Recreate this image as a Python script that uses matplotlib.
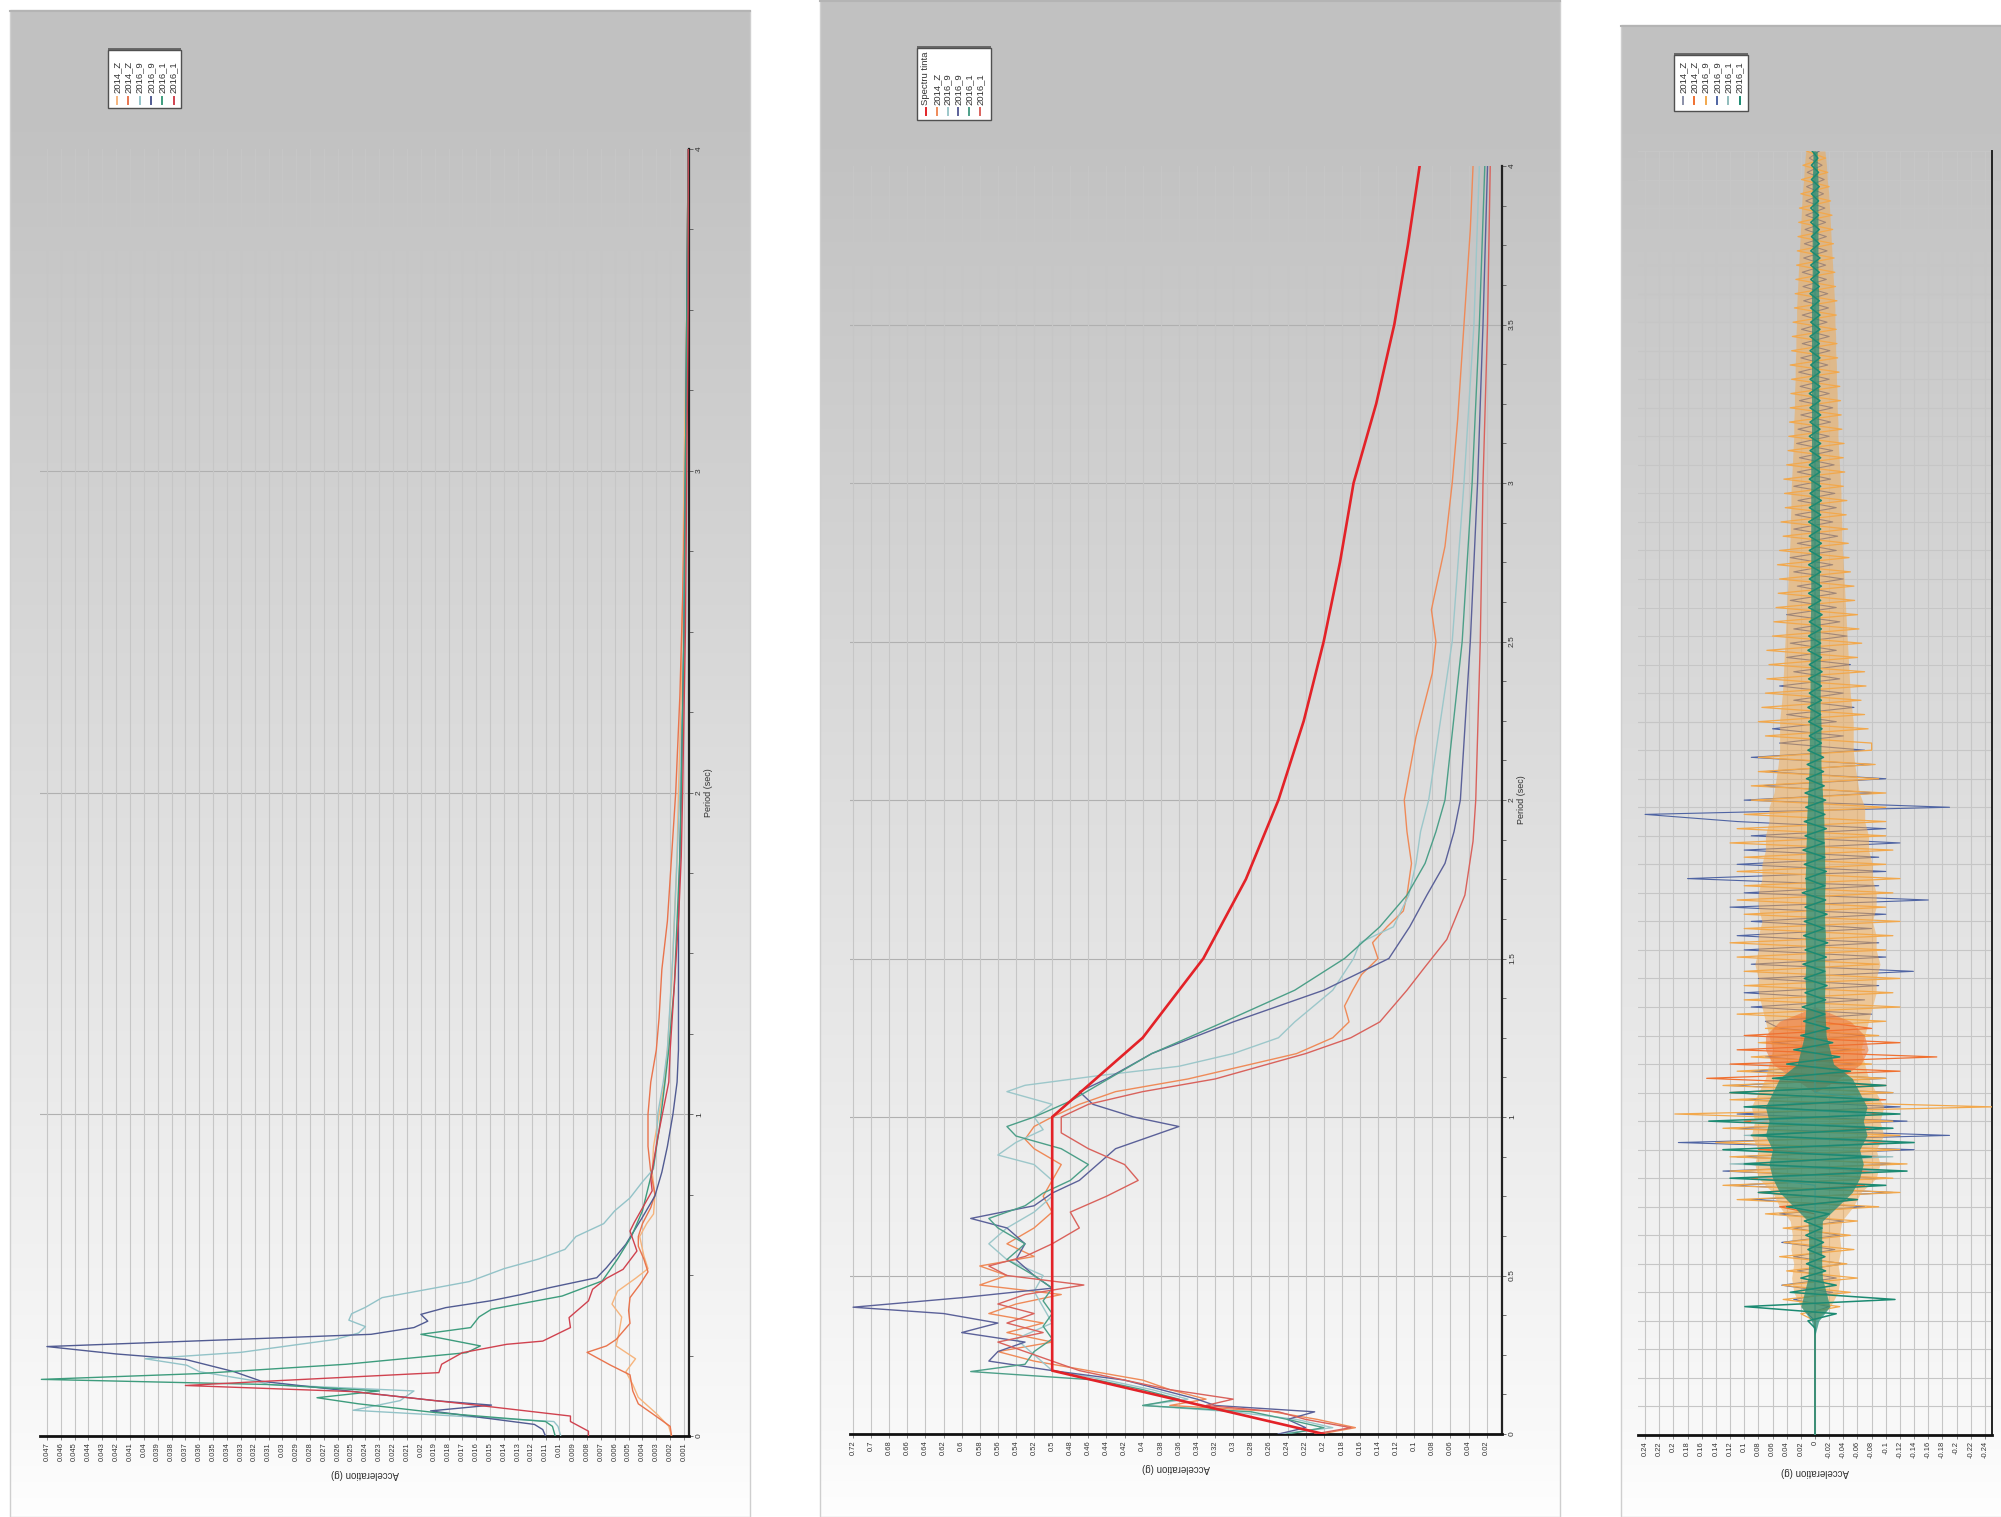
import numpy as np
import matplotlib
matplotlib.use('Agg')
import matplotlib.pyplot as plt
from matplotlib.patches import Rectangle

plt.rcParams['font.family'] = ['Liberation Sans', 'DejaVu Sans']

W, H = 2001, 1517

# ------------------------------------------------------------------ panel 1 data
p1_names = ['2014_Z', '2014_Z', '2016_9', '2016_9', '2016_1', '2016_1']
p1_colors = ['#f6b47c', '#e9744d', '#93c3c8', '#515b92', '#3d9c7d', '#d0424f']

p1_lo_T = [0, 0.03, 0.07, 0.12, 0.16, 0.2, 0.24, 0.28, 0.32, 0.37, 0.41, 0.45, 0.49, 0.52, 0.56, 0.62, 0.66,
           0.69, 0.75, 0.82, 0.9, 1.0, 1.1, 1.2, 1.4, 1.6, 1.8, 2.0, 2.3, 2.6, 3.0, 3.5, 4.0]
p1_lo_A = [0.0019, 0.0021, 0.0030, 0.0043, 0.0047, 0.0052, 0.0045, 0.0059, 0.0057, 0.0055, 0.0062, 0.0058,
           0.0045, 0.0036, 0.0039, 0.0042, 0.0037, 0.0032, 0.0031, 0.0033, 0.0032, 0.0028, 0.0024, 0.0022,
           0.0019, 0.0017, 0.0015, 0.0014, 0.0012, 0.0011, 0.0010, 0.0008, 0.0007]
p1_do_T = [0, 0.03, 0.07, 0.1, 0.14, 0.19, 0.22, 0.26, 0.28, 0.3, 0.35, 0.39, 0.43, 0.47, 0.51, 0.55, 0.59, 0.62,
           0.66, 0.71, 0.75, 0.82, 0.9, 1.0, 1.1, 1.2, 1.3, 1.45, 1.6, 1.8, 2.0, 2.3, 2.6, 3.0, 3.5, 4.0]
p1_do_A = [0.0019, 0.0020, 0.0033, 0.0043, 0.0047, 0.0049, 0.0063, 0.0080, 0.0066, 0.0059, 0.0049, 0.0050,
           0.0049, 0.0042, 0.0036, 0.0039, 0.0043, 0.0043, 0.0040, 0.0034, 0.0031, 0.0034, 0.0036, 0.0036,
           0.0034, 0.0030, 0.0028, 0.0026, 0.0022, 0.0019, 0.0016, 0.0013, 0.0011, 0.0009, 0.0008, 0.0007]
p1_lt_T = [0, 0.03, 0.045, 0.08, 0.11, 0.14, 0.16, 0.17, 0.2, 0.22, 0.24, 0.26, 0.3, 0.32, 0.34, 0.36, 0.38, 0.4,
           0.43, 0.46, 0.48, 0.52, 0.55, 0.58, 0.62, 0.66, 0.7, 0.74, 0.79, 0.83, 0.9, 1.0, 1.1, 1.2, 1.35, 1.5,
           1.7, 2.0, 2.3, 2.6, 3.0, 3.5, 4.0]
p1_lt_A = [0.0099, 0.0101, 0.0104, 0.0249, 0.0215, 0.0205, 0.0310, 0.0318, 0.0360, 0.0369, 0.0399, 0.0330,
           0.0262, 0.0245, 0.0240, 0.0252, 0.0250, 0.0240, 0.0228, 0.0190, 0.0165, 0.0140, 0.0115, 0.0096,
           0.0088, 0.0068, 0.0060, 0.0049, 0.0040, 0.0032, 0.0030, 0.0029, 0.0025, 0.0022, 0.0020, 0.0018,
           0.0016, 0.0013, 0.0011, 0.0010, 0.0009, 0.0008, 0.0007]
p1_ds_T = [0, 0.02, 0.036, 0.078, 0.096, 0.11, 0.17, 0.20, 0.238, 0.255, 0.278, 0.316, 0.337, 0.357, 0.378,
           0.399, 0.42, 0.44, 0.461, 0.492, 0.523, 0.596, 0.68, 0.746, 0.82, 0.9, 1.0, 1.1, 1.2, 1.4, 1.6, 1.8,
           2.0, 2.5, 3.0, 3.5, 4.0]
p1_ds_A = [0.0110, 0.0112, 0.0118, 0.0193, 0.0149, 0.0190, 0.0315, 0.0335, 0.0370, 0.0420, 0.0470, 0.0236,
           0.0205, 0.0195, 0.0200, 0.0182, 0.0150, 0.0127, 0.0107, 0.0073, 0.0066, 0.0052, 0.0040, 0.0031,
           0.0026, 0.0022, 0.0018, 0.0015, 0.0014, 0.0014, 0.0014, 0.0013, 0.0012, 0.0010, 0.0009, 0.0008,
           0.0007]
p1_gr_T = [0, 0.03, 0.045, 0.073, 0.10, 0.119, 0.14, 0.16, 0.176, 0.194, 0.223, 0.259, 0.28, 0.316, 0.337,
           0.37, 0.394, 0.435, 0.482, 0.55, 0.62, 0.7, 0.84, 0.95, 1.09, 1.2, 1.4, 1.6, 1.8, 2.0, 2.5, 3.0, 3.5,
           4.0]
p1_gr_A = [0.0103, 0.0105, 0.0110, 0.0190, 0.0245, 0.0275, 0.0230, 0.0310, 0.0474, 0.0360, 0.0254, 0.0167,
           0.0157, 0.0200, 0.0164, 0.0158, 0.0149, 0.0098, 0.0069, 0.0058, 0.0048, 0.0040, 0.0032, 0.0028,
           0.0024, 0.0021, 0.0017, 0.0015, 0.0013, 0.0012, 0.0010, 0.0009, 0.0008, 0.0007]
p1_rd_T = [0, 0.015, 0.045, 0.062, 0.093, 0.138, 0.157, 0.169, 0.197, 0.223, 0.259, 0.285, 0.295, 0.337, 0.368,
           0.42, 0.456, 0.49, 0.518, 0.575, 0.637, 0.663, 0.762, 0.8, 0.927, 1.1, 1.2, 1.4, 1.6, 1.8, 2.0, 2.5,
           3.0, 3.5, 4.0]
p1_rd_A = [0.0079, 0.0079, 0.0092, 0.0092, 0.0154, 0.0249, 0.0370, 0.0317, 0.0187, 0.0185, 0.0170, 0.0138,
           0.0112, 0.0092, 0.0093, 0.0079, 0.0076, 0.0066, 0.0054, 0.0044, 0.0049, 0.0046, 0.0033, 0.0034,
           0.0029, 0.0021, 0.0020, 0.0017, 0.0014, 0.0012, 0.0011, 0.0009, 0.0008, 0.0007, 0.0007]

p1_accel_ticks = [round(0.001 * k, 3) for k in range(1, 48)]
p1_period_ticks = [0, 1, 2, 3, 4]

# ------------------------------------------------------------------ panel 2 data
p2_names = ['Spectru tinta', '2014_Z', '2016_9', '2016_9', '2016_1', '2016_1']
p2_colors = ['#e32228', '#ef8a58', '#9cc7ca', '#5b6199', '#4c9f88', '#d9625c']

p2_design_T = [0, 0.2, 1.0, 1.25, 1.5, 1.75, 2.0, 2.25, 2.5, 2.75, 3.0, 3.25, 3.5, 3.75, 4.0]
p2_design_A = [0.2, 0.5, 0.5, 0.4, 0.333, 0.286, 0.25, 0.222, 0.2, 0.182, 0.167, 0.142, 0.122, 0.107, 0.094]

p2_or_T = [0, 0.02, 0.046, 0.072, 0.09, 0.11, 0.14, 0.17, 0.2, 0.23, 0.26, 0.29, 0.32, 0.35, 0.38, 0.41, 0.44,
           0.47, 0.5, 0.53, 0.56, 0.6, 0.65, 0.7, 0.75, 0.8, 0.85, 0.9, 0.93, 0.97, 1.0, 1.04, 1.08, 1.12, 1.16,
           1.2, 1.25, 1.3, 1.35, 1.4, 1.45, 1.5, 1.55, 1.6, 1.65, 1.7, 1.8, 1.9, 2.0, 2.2, 2.4, 2.5, 2.6, 2.8,
           3.0, 3.2, 3.5, 3.8, 4.0]
p2_or_A = [0.204, 0.165, 0.207, 0.26, 0.37, 0.33, 0.37, 0.40, 0.46, 0.52, 0.56, 0.50, 0.55, 0.51, 0.57, 0.54,
           0.49, 0.58, 0.55, 0.58, 0.52, 0.55, 0.52, 0.50, 0.51, 0.50, 0.49, 0.52, 0.53, 0.52, 0.50, 0.47, 0.43,
           0.35, 0.29, 0.23, 0.19, 0.172, 0.177, 0.168, 0.158, 0.14, 0.146, 0.13, 0.112, 0.108, 0.103, 0.108,
           0.111, 0.098, 0.08, 0.076, 0.081, 0.066, 0.058, 0.052, 0.045, 0.038, 0.035]
p2_lt_T = [0, 0.02, 0.046, 0.07, 0.09, 0.11, 0.14, 0.17, 0.2, 0.25, 0.3, 0.35, 0.4, 0.45, 0.5, 0.55, 0.6, 0.65,
           0.7, 0.75, 0.8, 0.85, 0.88, 0.92, 0.96, 1.0, 1.04, 1.08, 1.1, 1.13, 1.16, 1.2, 1.25, 1.3, 1.4, 1.5,
           1.55, 1.6, 1.7, 1.8, 1.9, 2.0, 2.5, 3.0, 3.5, 4.0]
p2_lt_A = [0.25, 0.19, 0.23, 0.30, 0.40, 0.35, 0.39, 0.44, 0.50, 0.52, 0.54, 0.50, 0.51, 0.52, 0.51, 0.55, 0.57,
           0.55, 0.52, 0.50, 0.50, 0.52, 0.56, 0.54, 0.51, 0.52, 0.50, 0.55, 0.53, 0.45, 0.36, 0.30, 0.25,
           0.232, 0.19, 0.167, 0.16, 0.123, 0.106, 0.098, 0.093, 0.084, 0.058, 0.045, 0.034, 0.028]
p2_ds_T = [0, 0.02, 0.046, 0.07, 0.09, 0.11, 0.14, 0.17, 0.2, 0.23, 0.26, 0.29, 0.32, 0.35, 0.38, 0.4, 0.43,
           0.46, 0.5, 0.55, 0.6, 0.65, 0.68, 0.72, 0.76, 0.8, 0.85, 0.9, 0.94, 0.97, 1.0, 1.04, 1.08, 1.12, 1.2,
           1.3, 1.4, 1.5, 1.6, 1.7, 1.8, 1.9, 2.0, 2.5, 3.0, 3.5, 4.0]
p2_ds_A = [0.25, 0.22, 0.24, 0.21, 0.32, 0.34, 0.38, 0.42, 0.50, 0.57, 0.56, 0.53, 0.60, 0.56, 0.62, 0.72, 0.60,
           0.50, 0.52, 0.54, 0.53, 0.55, 0.59, 0.52, 0.50, 0.47, 0.45, 0.43, 0.39, 0.36, 0.41, 0.455, 0.47,
           0.44, 0.39, 0.30, 0.20, 0.128, 0.105, 0.086, 0.066, 0.056, 0.049, 0.038, 0.030, 0.024, 0.019]
p2_gr_T = [0, 0.02, 0.046, 0.07, 0.09, 0.11, 0.14, 0.17, 0.197, 0.22, 0.26, 0.3, 0.34, 0.38, 0.42, 0.46, 0.5,
           0.55, 0.6, 0.65, 0.68, 0.72, 0.76, 0.8, 0.85, 0.9, 0.94, 0.97, 1.0, 1.05, 1.1, 1.15, 1.2, 1.3, 1.4,
           1.5, 1.6, 1.7, 1.8, 1.9, 2.0, 2.5, 3.0, 3.5, 4.0]
p2_gr_A = [0.24, 0.20, 0.24, 0.28, 0.40, 0.36, 0.40, 0.45, 0.59, 0.53, 0.52, 0.50, 0.51, 0.50, 0.51, 0.50, 0.52,
           0.55, 0.53, 0.56, 0.57, 0.53, 0.51, 0.48, 0.46, 0.49, 0.54, 0.55, 0.52, 0.48, 0.45, 0.42, 0.39,
           0.31, 0.232, 0.177, 0.138, 0.108, 0.088, 0.076, 0.066, 0.047, 0.036, 0.028, 0.022]
p2_rd_T = [0, 0.02, 0.046, 0.07, 0.09, 0.11, 0.14, 0.17, 0.2, 0.23, 0.26, 0.29, 0.32, 0.35, 0.38, 0.41, 0.44,
           0.47, 0.5, 0.53, 0.56, 0.6, 0.65, 0.7, 0.75, 0.8, 0.85, 0.9, 0.95, 1.0, 1.04, 1.08, 1.12, 1.16, 1.2,
           1.25, 1.3, 1.4, 1.47, 1.56, 1.7, 1.87, 2.0, 2.5, 3.0, 3.5, 4.0]
p2_rd_A = [0.21, 0.17, 0.22, 0.25, 0.33, 0.30, 0.37, 0.42, 0.47, 0.50, 0.53, 0.56, 0.51, 0.55, 0.52, 0.56, 0.53,
           0.465, 0.55, 0.57, 0.53, 0.50, 0.47, 0.48, 0.44, 0.405, 0.42, 0.46, 0.49, 0.49, 0.46, 0.40, 0.32,
           0.27, 0.22, 0.17, 0.138, 0.108, 0.089, 0.064, 0.044, 0.035, 0.032, 0.027, 0.024, 0.019, 0.016]

p2_accel_ticks = [round(0.02 * k, 2) for k in range(1, 37)]
p2_period_ticks = [0, 0.5, 1, 1.5, 2, 2.5, 3, 3.5, 4]

# ------------------------------------------------------------------ panel 3 data (time histories, dt = 0.25 s)
p3_names = ['2014_Z', '2014_Z', '2016_9', '2016_9', '2016_1', '2016_1']
p3_colors = ['#8a8fa8', '#f07030', '#f2a84c', '#4f64a3', '#8fbcbc', '#1b8a72']
p3_time = np.linspace(0, 45, 181)

p3_blue = ([0.0] * 17 +
           [0.01, -0.02, 0.03, -0.025, 0.047, -0.03, 0.025, -0.04, 0.03, -0.028, 0.047, -0.035, 0.03, -0.04,
            0.05] +
           [-0.07, 0.09, -0.11, 0.12, -0.1, 0.13, -0.12, 0.11, -0.14, 0.193, -0.19, 0.12, -0.13, 0.11, -0.12,
            0.1, -0.11, 0.12, -0.1, 0.09] +
           [-0.06, 0.07, -0.05, 0.06, -0.07, 0.05] +
           [0.07, -0.08, 0.09, -0.07, 0.1, -0.09, 0.08, -0.139, 0.09, -0.1,
            0.1, -0.09, 0.11, -0.08, 0.09, -0.1, 0.12, -0.16, 0.1, -0.09,
            0.18, -0.1, 0.11, -0.09, 0.1, -0.12, 0.09, -0.1, 0.11, 0.24,
            -0.19, 0.1, -0.09, 0.08, -0.1, 0.07, -0.08, 0.09, -0.07] +
           [0.05, -0.04, 0.06, -0.03, 0.04, -0.055, 0.03, -0.04, 0.05, -0.035,
            0.03, -0.05, 0.04, -0.03, 0.035, -0.045, 0.03, -0.035, 0.04, -0.03,
            0.035, -0.03, 0.025, -0.04, 0.03, -0.025, 0.035, -0.03, 0.025, -0.032,
            0.03, -0.025, 0.028, -0.03, 0.024, -0.028, 0.03, -0.022, 0.025, -0.027,
            0.022, -0.025, 0.026, -0.02, 0.024, -0.022, 0.02, -0.025, 0.022, -0.02,
            0.021, -0.02, 0.023, -0.018, 0.02, -0.021, 0.018, -0.02, 0.019, -0.017,
            0.018, -0.019, 0.016, -0.018, 0.017, -0.016, 0.018, -0.015, 0.016, -0.017,
            0.015, -0.016, 0.014, -0.015, 0.013, -0.014, 0.013, -0.012, 0.012, -0.013,
            0.011, -0.01, 0.008, -0.006])

p3_orange = ([0.0] * 17 +
             [0.02, -0.035, 0.045, -0.05, 0.046, -0.06, 0.04, -0.045, 0.05, -0.055, 0.044, -0.05, 0.045, -0.06,
              0.07] +
             [-0.09, 0.11, -0.12, 0.13, -0.11, 0.12, -0.13, 0.12, -0.12, 0.14, -0.12, 0.13, -0.11, 0.198, -0.25,
              0.12, -0.11, 0.13, -0.1, 0.11] +
             [-0.08, 0.09, -0.07, 0.08, -0.09, 0.07] +
             [-0.1, 0.11, -0.12, 0.1, -0.11, 0.1, -0.12, 0.1, -0.09, 0.11,
              -0.1, 0.12, -0.11, 0.1, -0.12, 0.1, -0.1, 0.11, -0.11, 0.1,
              -0.12, 0.11, -0.1, 0.1, -0.11, 0.12, -0.1, 0.11, -0.1, 0.1,
              -0.1, 0.09, -0.1, 0.09, -0.09, 0.08, -0.085, 0.08, -0.08] +
             [-0.08, 0.07, -0.075, 0.08, -0.07, 0.075, -0.065, 0.07, -0.072, 0.068,
              -0.07, 0.065, -0.06, 0.068, -0.066, 0.06, -0.062, 0.058, -0.06, 0.055,
              -0.056, 0.052, -0.055, 0.05, -0.05, 0.053, -0.048, 0.05, -0.047, 0.045,
              -0.046, 0.048, -0.044, 0.042, -0.045, 0.043, -0.04, 0.044, -0.042, 0.04,
              -0.04, 0.038, -0.041, 0.037, -0.038, 0.036, -0.037, 0.035, -0.036, 0.034,
              -0.035, 0.033, -0.034, 0.035, -0.032, 0.033, -0.031, 0.032, -0.03, 0.031,
              -0.03, 0.029, -0.031, 0.028, -0.029, 0.027, -0.028, 0.026, -0.027, 0.025,
              -0.026, 0.024, -0.025, 0.023, -0.024, 0.022, -0.022, 0.02, -0.02, 0.019,
              -0.018, 0.017, -0.015, 0.012])

p3_dark_orange = ([0.0] * 32 +
                  [0.05, -0.06, 0.08, -0.07, 0.09, -0.08, 0.1, -0.09, 0.08, -0.1, 0.09, -0.08, 0.1, -0.09, 0.08,
                   -0.1, 0.12, -0.1, 0.153, -0.12] +
                  [0.12, -0.172, 0.11, -0.12, 0.1, -0.08] +
                  [0.0] * 123)

p3_teal = ([0.0] * 36 +
           [0.08, -0.1, 0.12, -0.11, 0.13, -0.12, 0.1, -0.11, 0.09, -0.08, 0.1, -0.09] +
           [0.0] * 133)

p3_green = ([0.0] * 16 +
            [0.01, -0.03, 0.099, -0.113] +
            [0.035, -0.03, 0.02, -0.015, 0.012, -0.014, 0.01, -0.012, 0.013, -0.01, 0.015, -0.02] +
            [0.04, -0.06, 0.08, -0.1, 0.12, -0.13, 0.1, -0.08, 0.13, -0.14, 0.09, -0.11, 0.15, -0.12, 0.1,
             -0.09, 0.12, -0.1, 0.06, -0.05] +
            [0.04, -0.035, 0.03, -0.025, 0.02, -0.02] +
            [0.016, -0.014, 0.018, -0.015, 0.014, -0.017, 0.015, -0.014, 0.017, -0.016,
             0.014, -0.018, 0.016, -0.013, 0.015, -0.017, 0.014, -0.015, 0.018, -0.014,
             0.013, -0.016, 0.015, -0.014, 0.017, -0.013, 0.014, -0.016, 0.015, -0.014,
             0.013, -0.015, 0.014, -0.013, 0.012, -0.012, 0.011, -0.012] +
            [0.01, -0.009, 0.008, -0.01, 0.009, -0.008, 0.01, -0.009, 0.008, -0.009,
             0.009, -0.01, 0.008, -0.009, 0.01, -0.008, 0.009, -0.009, 0.008, -0.01,
             0.009, -0.008, 0.009, -0.009, 0.008, -0.008, 0.009, -0.009, 0.008, -0.009,
             0.008, -0.008, 0.009, -0.008, 0.008, -0.009, 0.007, -0.008, 0.008, -0.007,
             0.008, -0.008, 0.007, -0.008, 0.008, -0.007, 0.007, -0.008, 0.007, -0.007,
             0.008, -0.007, 0.007, -0.007, 0.006, -0.007, 0.007, -0.006, 0.007, -0.007,
             0.006, -0.007, 0.006, -0.006, 0.007, -0.006, 0.006, -0.006, 0.006, -0.007,
             0.006, -0.006, 0.005, -0.006, 0.006, -0.005, 0.006, -0.005, 0.005, -0.006,
             0.005, -0.005, 0.005, -0.004, 0.004])

# dense-core widths of the traces, read every 0.5 s (t = 0 .. 45)
p3_env_time = [0.5 * k for k in range(91)]
p3_orange_env_hi = [0, 0, 0, 0, 0, 0, 0, 0, 0, 0.02, 0.03, 0.033, 0.03, 0.034, 0.032, 0.035, 0.05, 0.06, 0.08,
                    0.085, 0.08, 0.09, 0.085, 0.09, 0.08, 0.07, 0.065, 0.06, 0.065, 0.07, 0.075, 0.08, 0.08, 0.085,
                    0.08, 0.08, 0.075, 0.08, 0.08, 0.075, 0.075, 0.07, 0.07, 0.065, 0.065, 0.058, 0.055, 0.052,
                    0.05, 0.05, 0.05, 0.048, 0.046, 0.045, 0.044, 0.043, 0.042, 0.041, 0.04, 0.039, 0.038, 0.037,
                    0.036, 0.035, 0.035, 0.034, 0.034, 0.033, 0.032, 0.031, 0.03, 0.03, 0.029, 0.029, 0.028,
                    0.028, 0.027, 0.027, 0.026, 0.026, 0.025, 0.024, 0.023, 0.022, 0.021, 0.02, 0.019, 0.018,
                    0.016, 0.015, 0.013]
p3_orange_env_lo = [-v * 1.08 for v in p3_orange_env_hi]
p3_dark_env_hi = [0] * 25 + [0.03, 0.06, 0.07, 0.07, 0.05] + [0] * 61
p3_dark_env_lo = [0] * 25 + [-0.035, -0.065, -0.075, -0.07, -0.05] + [0] * 61
p3_green_env_hi = [0, 0, 0, 0, 0, 0, 0, 0, 0.005, 0.02, 0.015, 0.01, 0.009, 0.009, 0.009, 0.01, 0.03, 0.05, 0.06,
                   0.065, 0.06, 0.07, 0.065, 0.07, 0.06, 0.05, 0.025, 0.02, 0.015, 0.014, 0.013, 0.013, 0.014,
                   0.013, 0.013, 0.014, 0.013, 0.013, 0.013, 0.014, 0.013, 0.013, 0.012, 0.012, 0.011, 0.01,
                   0.009, 0.008, 0.008, 0.008, 0.008, 0.007, 0.007, 0.007, 0.007, 0.007, 0.007, 0.007, 0.006,
                   0.006, 0.006, 0.006, 0.006, 0.006, 0.006, 0.006, 0.006, 0.006, 0.006, 0.005, 0.005, 0.005,
                   0.005, 0.005, 0.005, 0.005, 0.005, 0.005, 0.005, 0.005, 0.005, 0.004, 0.004, 0.004, 0.004,
                   0.004, 0.004, 0.004, 0.004, 0.003, 0.003]
p3_green_env_lo = [-v * 1.05 for v in p3_green_env_hi]

p3_accel_ticks = [round(0.02 * k, 2) for k in range(-12, 13)]
p3_time_ticks = list(range(0, 46))

# ------------------------------------------------------------------ helpers
fig = plt.figure(figsize=(W / 100, H / 100), dpi=100)


def px_axes(x0, y0, x1, y1, **kw):
    return fig.add_axes([x0 / W, 1 - y1 / H, (x1 - x0) / W, (y1 - y0) / H], **kw)


def fmt(v):
    s = f'{v:.3f}'.rstrip('0').rstrip('.')
    return '0' if s in ('-0', '') else s


bg = px_axes(0, 0, W, H)
bg.set_zorder(0)
bg.axis('off')

cards = [(10, 10, 750, H, 149, 1436), (820, 0, 1560, H, 166, 1434), (1621, 25, W + 2, H, 151, 1435)]
for (cx0, cy0, cx1, cy1, ptop, pbot) in cards:
    ys = np.arange(cy0, cy1)
    v = np.where(ys < ptop - 40, 0.757,
                 np.where(ys < pbot, 0.757 + (ys - (ptop - 40)) / (pbot - ptop + 40) * 0.22,
                          0.977 + (ys - pbot) / max(cy1 - pbot, 1) * 0.02))
    img = np.repeat(v[:, None, None], 3, axis=2)
    bg.imshow(img, extent=(cx0, cx1, cy1, cy0), aspect='auto', interpolation='bilinear')
    bg.add_patch(Rectangle((cx0, cy0), cx1 - cx0, cy1 - cy0, fill=False, ec='#cfcfcf', lw=1.0))
    bg.plot([cx0, cx1], [cy0 + 1, cy0 + 1], color='#b4b4b4', lw=1.5)
bg.set_xlim(0, W)
bg.set_ylim(H, 0)


def style_axes(ax, xlim, ylim, xticks, yticks, ylabels, hlines, hcol):
    ax.set_facecolor('none')
    ax.set_xlim(*xlim)
    ax.set_ylim(*ylim)
    ax.set_axisbelow(True)
    for s in ('top', 'left'):
        ax.spines[s].set_visible(False)
    ax.spines['bottom'].set_linewidth(2.0)
    ax.spines['bottom'].set_color('#111111')
    ax.spines['right'].set_linewidth(1.6)
    ax.spines['right'].set_color('#222222')
    ax.set_xticks(xticks)
    ax.set_xticklabels([fmt(t) for t in xticks], rotation=90, fontsize=5.4, color='#333333')
    ax.tick_params(axis='x', length=3, width=0.6, color='#777777', pad=1.5)
    ax.yaxis.tick_right()
    ax.set_yticks(yticks)
    ax.set_yticklabels(ylabels, rotation=90, va='center', fontsize=6, color='#333333')
    ax.tick_params(axis='y', length=3, width=0.6, color='#555555', pad=2)
    ax.grid(axis='x', color='#c6c6c6', lw=0.8)
    for h in hlines:
        ax.axhline(h, color=hcol, lw=0.8, zorder=0.5)
    ax.set_xlabel('Acceleration (g)', rotation=180, fontsize=7, color='#333333', labelpad=6)


# ------------------------------------------------------------------ panel 1
ax1 = px_axes(40, 149, 689, 1436)
ax1.set_zorder(1)
style_axes(ax1, (0.0475, 0.00064), (0, 4), p1_accel_ticks, p1_period_ticks,
           [fmt(t) for t in p1_period_ticks], p1_period_ticks[1:-1], '#b0b0b0')
ax1.set_yticks([0.25 * k for k in range(17)], minor=True)
ax1.tick_params(axis='y', which='minor', length=3, width=0.6, color='#555555')
ax1.yaxis.set_label_position('right')
ax1.set_ylabel('Period (sec)', rotation=90, fontsize=6.5, color='#333333', labelpad=1)
p1_series = [(p1_lo_T, p1_lo_A), (p1_do_T, p1_do_A), (p1_lt_T, p1_lt_A),
             (p1_ds_T, p1_ds_A), (p1_gr_T, p1_gr_A), (p1_rd_T, p1_rd_A)]
for (T, A), c in zip(p1_series, p1_colors):
    ax1.plot(A, T, color=c, lw=1.0, zorder=3)

# ------------------------------------------------------------------ panel 2
ax2 = px_axes(850, 166, 1502, 1434)
ax2.set_zorder(1)
style_axes(ax2, (0.7234, 0.003), (0, 4), p2_accel_ticks, p2_period_ticks,
           [fmt(t) for t in p2_period_ticks], p2_period_ticks[1:-1], '#b0b0b0')
ax2.set_yticks([0.125 * k for k in range(33)], minor=True)
ax2.tick_params(axis='y', which='minor', length=3, width=0.6, color='#555555')
ax2.yaxis.set_label_position('right')
ax2.set_ylabel('Period (sec)', rotation=90, fontsize=6.5, color='#333333', labelpad=1)
p2_series = [(p2_or_T, p2_or_A, p2_colors[1]), (p2_lt_T, p2_lt_A, p2_colors[2]),
             (p2_ds_T, p2_ds_A, p2_colors[3]), (p2_gr_T, p2_gr_A, p2_colors[4]),
             (p2_rd_T, p2_rd_A, p2_colors[5])]
for T, A, c in p2_series:
    ax2.plot(A, T, color=c, lw=1.0, zorder=3)
ax2.plot(p2_design_A, p2_design_T, color=p2_colors[0], lw=1.9, zorder=4)

# ------------------------------------------------------------------ panel 3
ax3 = px_axes(1638, 151, 1992, 1435)
ax3.set_zorder(1)
style_axes(ax3, (0.25, -0.25), (0, 45), p3_accel_ticks, p3_time_ticks,
           ['' for _ in p3_time_ticks], p3_time_ticks[1:], '#c6c6c6')
ax3.tick_params(axis='y', length=0)
ax3.spines['right'].set_linewidth(1.4)
ax3.plot(p3_blue, p3_time, color=p3_colors[3], lw=0.8, zorder=2)
ax3.fill_betweenx(p3_env_time, p3_orange_env_lo, p3_orange_env_hi, color=p3_colors[2], alpha=0.5, lw=0,
                  zorder=2.5)
ax3.plot(p3_orange, p3_time, color=p3_colors[2], lw=0.9, zorder=3.1)
ax3.fill_betweenx(p3_env_time, p3_dark_env_lo, p3_dark_env_hi, color=p3_colors[1], alpha=0.55, lw=0,
                  zorder=3.2)
ax3.plot(p3_dark_orange, p3_time, color=p3_colors[1], lw=0.9, zorder=3.3)
ax3.plot(p3_teal, p3_time, color=p3_colors[4], lw=0.8, zorder=3.4)
ax3.fill_betweenx(p3_env_time, p3_green_env_lo, p3_green_env_hi, color=p3_colors[5], alpha=0.7, lw=0,
                  zorder=3.5)
ax3.plot(p3_green, p3_time, color=p3_colors[5], lw=1.1, zorder=3.6)

# ------------------------------------------------------------------ legends (overlay)
ov = px_axes(0, 0, W, H)
ov.set_zorder(5)
ov.set_facecolor('none')
ov.axis('off')
ov.set_xlim(0, W)
ov.set_ylim(H, 0)


def draw_legend(box, names, colors, cx0, dx, text_y, ly0, ly1, fs):
    x0, y0, x1, y1 = box
    ov.add_patch(Rectangle((x0, y0 - 2), x1 - x0, y1 - y0 + 2, fc='#6a6a6a', ec='none'))
    ov.add_patch(Rectangle((x0, y0), x1 - x0, y1 - y0, fc='white', ec='#505050', lw=1.0))
    for i, (n, c) in enumerate(zip(names, colors)):
        x = cx0 + i * dx
        ov.text(x, text_y, n, rotation=90, ha='center', va='bottom', fontsize=fs, color='#333333')
        ov.plot([x, x], [ly0, ly1], color=c, lw=1.4)


draw_legend((108, 50, 181, 108), p1_names, p1_colors, 117, 11.3, 93, 97, 104, 6.8)
draw_legend((917, 48, 991, 120), p2_names, p2_colors, 926, 10.8, 105, 108, 115, 6.8)
draw_legend((1674, 55, 1748, 111), p3_names, p3_colors, 1683, 11.3, 93, 97, 104, 6.8)

fig.savefig('out.png', dpi=100)
